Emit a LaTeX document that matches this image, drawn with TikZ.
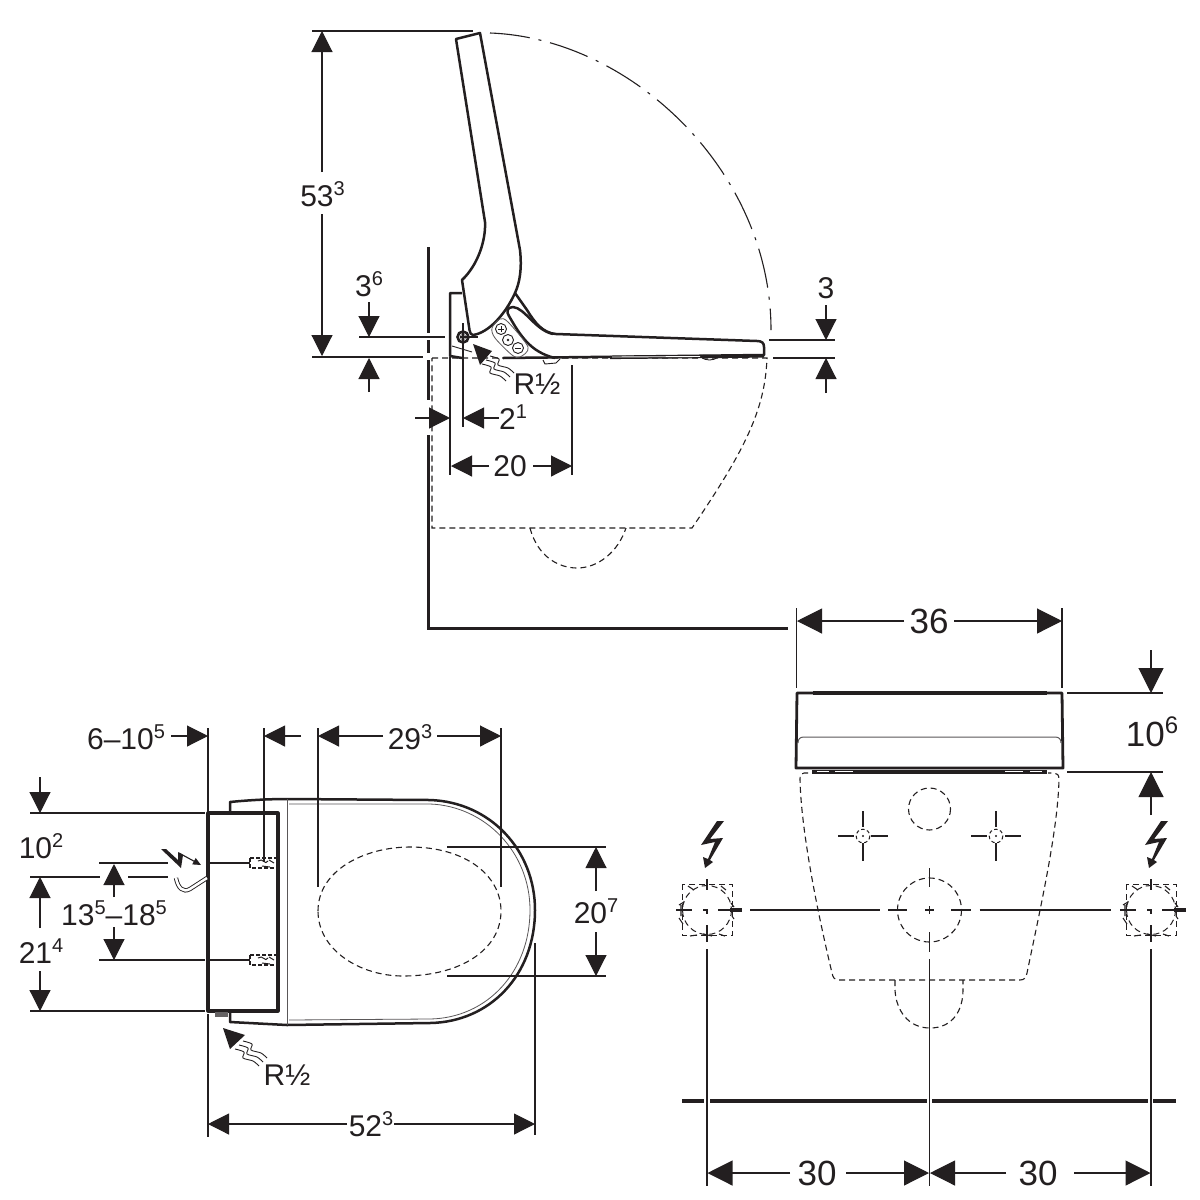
\documentclass[tikz,border=0pt]{standalone}
\usepackage{fontspec}
\setmainfont{Liberation Sans}
\usetikzlibrary{arrows.meta}
\definecolor{ink}{HTML}{231F20}
\newcommand{\upa}[1]{\raisebox{.36em}{\fontsize{20}{20}\selectfont #1}}
\newcommand{\upb}[1]{\raisebox{.36em}{\fontsize{24}{24}\selectfont #1}}
\tikzset{
	num/.style={font=\fontsize{30}{30}\selectfont,inner sep=0pt,text=ink},
	bignum/.style={font=\fontsize{35}{35}\selectfont,inner sep=0pt,text=ink},
	dim/.style={line width=1.1pt,draw=ink},
	big/.style={dim,>={Triangle[length=25pt,width=25pt]}},
	heavy/.style={line width=3pt,draw=ink},
	outline/.style={line width=2.5pt,draw=ink,line join=round},
	thin line/.style={line width=.8pt,draw=ink!75},
	hidden/.style={line width=1.1pt,draw=ink,dash pattern=on 6pt off 4pt},
	fitting/.pic={
		\draw[hidden,line width=1pt] (-25,-26) rectangle (25.5,25);
		\draw[hidden,line width=1pt] (0,0) circle (24.5);
		\draw[dim] (0,-31)--(0,-20) (0,15)--(0,32) (-31,0)--(-15,0) (-4,0)--(0,0)--(0,4) (11,0)--(23,0);
		\draw[line width=4pt,draw=ink] (23,0)--(35,0);
		\draw[dim] (-26,-5)--(-26,6) (-23,-8)--(-28,-5) (-19,-24)--(-13,-20) (14,-24)--(19,-20) (-17,26)--(-10,25) (12,24)--(18,26) (24,-7)--(27,-3) (25,6)--(27,9) (-4,24)--(5,26) (-28,8)--(-24,14);
	},
	hanger/.pic={
		\draw[hidden,line width=1.2pt,dash pattern=on 4pt off 2pt] (0,-5) rectangle (28,5);
		\draw[line width=1pt,draw=ink] (8,-2)..controls (13,-6) and (15,3) .. (18,-2) (12,3)--(20,4) (19,-3)--(24,0);
	},
	bolt/.pic={
		\fill[ink] (0,0)--(7,0)--(-7,18)--(6,17)--(-7,39)--(-4,41)--(-12,47)--(-14,36)--(-9,38)--(-2,21)--(-16,24)--cycle;
	},
	waves/.pic={
		\foreach \d in {0,1,2}
			\draw[line width=.9pt,draw=ink,xshift=-4*\d,yshift=-4*\d] plot[smooth] coordinates {(0,0) (9,3) (8,9) (18,12) (24,17)};
	}
}
\begin{document}
\begin{tikzpicture}[x=1pt,y=-1pt,>={Triangle[length=21pt,width=21pt]}]
	\fill[white] (0,0) rectangle (1200,1200);
	\useasboundingbox (0,0) rectangle (1200,1200);
	%Tuong
	\draw[heavy] (428,247)--(428,333) (428,340)--(428,353) (428,360)--(428,400);
	\draw[heavy] (428,435)--(428,628)--(788,628);
	%Chau nhin ben
	\draw[hidden] (432,358)--(767,358) .. controls (765,410) and (745,450) .. (692,528)--(432,528)--(432,358);
	\draw[hidden] (530,528) .. controls (538,558) and (560,568) .. (577,568) .. controls (598,568) and (618,552) .. (626,528);
	%Vong mo nap
	\draw[line width=1.1pt,draw=ink,dash pattern=on 40pt off 9pt on 3pt off 9pt] (490,33) .. controls (630,38) and (771,170) .. (771,330);
	%Nap dung
	\draw[outline] (456,39)--(480,33)--(520,250) .. controls (522,268) and (520,282) .. (515,293) .. controls (505,315) and (488,333) .. (473,335) .. controls (471,335) and (470,333) .. (469.5,330)--(462,280) .. controls (478,265) and (486,240) .. (485,222)--cycle;
	%Bet ngoi
	\draw[outline] (515,293)--(527,310) .. controls (535,323) and (543,333) .. (556,334)--(757,341) .. controls (762,341) and (764,343) .. (764,347)--(764,355)--(503,358);
	\draw[outline] (553,334) .. controls (535,330) and (525,308) .. (513,307) .. controls (507,307) and (506,312) .. (509,316) .. controls (520,335) and (530,352) .. (555,358);
	\draw[outline] (462,293)--(450,293)--(450,356)--(462,358);
	\draw[line width=.9pt,draw=ink] (452,346)--(472,352);
	\draw[line width=.9pt,draw=ink] (543,360)--(545,364)--(556,363)--(560,359);
	\draw[line width=.9pt,draw=ink] (701,357) .. controls (705,361) and (714,361) .. (718,357);
	\draw[line width=3.2pt,draw=ink] (610,357.5)--(764,356);
	\draw[line width=.9pt,white] (612,357)--(700,356.5);
	%Cum nut
	\draw[thin line] plot[smooth cycle] coordinates {(492,328) (500,319) (508,322) (528,347) (520,357) (512,355) (495,338)};
	\draw[line width=.9pt,draw=ink] (501,329) circle (5.5) (508,340) circle (5.5) (518,348) circle (5.5);
	\draw[line width=1pt,draw=ink] (498,329)--(504,329) (501,326)--(501,332) (515,348)--(521,348);
	\fill[ink] (508,340) circle (1.3);
	%Truc
	\draw[line width=2.6pt,draw=ink] (463,337) circle (5.5);
	\fill[ink!50] (463,337) circle (3.4);
	\fill[white] (463,337) circle (2);
	\fill[ink] (463,337) circle (.9);
	%Cap nuoc
	\fill[ink] (473,344)--(492,351)--(480,365)--cycle;
	\pic at (490,356) {waves};
	\node[num] (rtop) at (537,384) {R½};
	%Kich thuoc 53
	\draw[dim] (312,31)--(473,31);
	\draw[dim,->] (322,172)--(322,31);
	\draw[dim,->] (322,214)--(322,356);
	\node[num] (h533) at (322.5,194) {53\upa{3}};
	\draw[dim] (312,357)--(423,357);
	%Kich thuoc 3,6
	\draw[dim] (359,337)--(445,337) (460,337)--(478,337);
	\draw[dim] (463,323)--(463,427);
	\draw[dim,->] (369,302)--(369,337);
	\draw[dim,->] (369,392)--(369,358);
	\node[num] (h36) at (369,284) {3\upa{6}};
	%Kich thuoc 3
	\draw[dim] (769,340)--(835,340) (773,358)--(835,358);
	\draw[dim,->] (826,305)--(826,340);
	\draw[dim,->] (826,393)--(826,358);
	\node[num] (h3) at (826,288) {3};
	%Kich thuoc 2,1
	\draw[dim] (450,357)--(450,475);
	\draw[dim,->] (415,418)--(450,418);
	\draw[dim,->] (499,418)--(463,418);
	\node[num] (w21) at (513,417) {2\upa{1}};
	%Kich thuoc 20
	\draw[dim] (572,365)--(572,475);
	\draw[dim,->] (489,466)--(451,466);
	\draw[dim,->] (533,466)--(572,466);
	\node[num] (w20) at (510,466) {20};
	%Mat bang - than
	\draw[dim] (208,728)--(208,812) (208,1014)--(208,1137);
	\draw[outline,line width=3.1pt] (208,813)--(278,813)--(278,1011)--(208,1011)--cycle;
	\draw[outline] (230,812)--(230,802) .. controls (250,800) and (270,799) .. (287,799)--(430,800) .. controls (490,802) and (535,850) .. (535,910) .. controls (535,975) and (490,1022) .. (430,1023)--(287,1025)--(230,1022)--(230,1012);
	\draw[thin line] (287,799)--(287,1025);
	\draw[thin line] (289,804)--(430,804) .. controls (485,806) and (530,852) .. (530,910) .. controls (530,972) and (487,1018) .. (430,1019)--(289,1020);
	\fill[ink!70] (215,1012) rectangle (228,1017);
	\pic at (250,863) {hanger};
	\pic at (250,960) {hanger};
	\draw[hidden] (318,911) .. controls (318,870) and (365,847) .. (410,847) .. controls (465,847) and (501,875) .. (501,911) .. controls (501,950) and (460,976) .. (403,976) .. controls (360,976) and (318,950) .. (318,911)--cycle;
	%Kich thuoc 29
	\draw[dim] (318,728)--(318,887) (501,728)--(501,887);
	\draw[dim,->] (383,736)--(318,736);
	\draw[dim,->] (437,736)--(501,736);
	\node[num] (w293) at (410,737) {29\upa{3}};
	%Kich thuoc 6-10
	\draw[dim] (264,728)--(264,862);
	\draw[dim,->] (171,736)--(208,736);
	\draw[dim,->] (301,736)--(264,736);
	\node[num] (w610) at (126,737) {6–10\upa{5}};
	%Kich thuoc 10,2 va 21,4
	\draw[dim] (30,813)--(205,813) (30,877)--(100,877) (128,877)--(168,877) (30,1011)--(205,1011);
	\draw[dim,->] (40,777)--(40,813);
	\node[num] (h102) at (41,846) {10\upa{2}};
	\draw[dim,->] (40,928)--(40,877);
	\draw[dim,->] (40,971)--(40,1011);
	\node[num] (h214) at (41,951) {21\upa{4}};
	%Kich thuoc 13,5-18,5
	\draw[dim] (99,863)--(168,863) (207,863)--(250,863) (99,960)--(205,960) (209,960)--(250,960);
	\draw[dim,->] (114,897)--(114,864);
	\draw[dim,->] (114,927)--(114,960);
	\node[num] (h135) at (114,913) {13\upa{5}–18\upa{5}};
	%Dien
	\fill[ink] (161,849)--(166,849)--(178,860)--(178,852)--(183,855)--(181,868)--cycle;
	\draw[dim,-{Triangle[length=8pt,width=7pt]}] (179,853)--(201,865);
	\draw[line width=.9pt,draw=ink,double=white,double distance=2.5pt] (207,878)--(190,889) .. controls (183,893) and (178,888) .. (176,878);
	%Cap nuoc mat bang
	\fill[ink] (223,1028)--(245,1035)--(230,1049)--cycle;
	\pic at (243,1041) {waves};
	\node[num] (rplan) at (287,1075) {R½};
	%Kich thuoc 52
	\draw[dim] (535,943)--(535,1135);
	\draw[dim,->] (347,1124)--(208,1124);
	\draw[dim,->] (394,1124)--(535,1124);
	\node[num] (w523) at (371,1124) {52\upa{3}};
	%Kich thuoc 20,7
	\draw[dim] (447,847)--(606,847) (447,976)--(606,976);
	\draw[dim,->] (596,891)--(596,847);
	\draw[dim,->] (596,932)--(596,976);
	\node[num] (h207) at (596,911) {20\upa{7}};
	%Nhin truoc - bet ngoi
	\draw[outline,line width=2.8pt] (797,693)--(1062,693)--(1063,768)--(796,768)--cycle;
	\draw[line width=3.4pt,draw=ink] (813,693)--(1047,693);
	\draw[thin line,line width=1pt] (798,743) .. controls (798,739) and (800,737) .. (804,737)--(1055,737) .. controls (1059,737) and (1061,739) .. (1061,743);
	\draw[line width=4pt,draw=ink] (812,771.5)--(1047,771.5);
	\draw[line width=.9pt,white] (817,771)--(829,771) (835,771)--(853,771) (1005,771)--(1023,771) (1030,771)--(1042,771);
	%Chau nhin truoc
	\draw[hidden] (808,773)--(804,773) .. controls (801,773) and (800,775) .. (800,779) .. controls (801,830) and (817,910) .. (832,973) .. controls (833,978) and (835,980) .. (838,980)--(1020,980) .. controls (1024,980) and (1026,978) .. (1027,973) .. controls (1040,910) and (1058,830) .. (1059,779) .. controls (1059,775) and (1057,773) .. (1054,773)--(1048,773);
	\draw[hidden] (895,980)--(895,990) .. controls (896,1010) and (908,1028) .. (930,1028) .. controls (953,1028) and (963,1010) .. (963,990)--(963,980);
	\draw[hidden] (929.5,809) circle (21);
	%Lo vit
	\draw[hidden,line width=1pt,dash pattern=on 3.5pt off 2.5pt] (863,836) circle (6.8) (996,836) circle (6.8);
	\fill[ink] (863,836) circle (1.2) (996,836) circle (1.2);
	\draw[dim] (838,836)--(854,836) (871,836)--(888,836) (863,811)--(863,827) (863,843)--(863,861);
	\draw[dim] (971,836)--(987,836) (1005,836)--(1021,836) (996,811)--(996,827) (996,843)--(996,861);
	%Lo xa
	\draw[hidden] (929.5,910) circle (32);
	\draw[dim] (929.5,868)--(929.5,887) (929.5,932)--(929.5,952) (925,910)--(934,910) (929.5,906)--(929.5,914);
	\draw[dim] (750,910)--(880,910) (888,910)--(907,910) (951,910)--(971,910) (979.5,910)--(1111,910);
	\draw[dim] (929.5,959)--(929.5,1186);
	%Dau noi hai ben
	\pic at (707,910) {fitting};
	\pic at (1151,910) {fitting};
	\draw[dim] (707,949)--(707,1186) (1151,949)--(1151,1186);
	\pic at (717,821) {bolt};
	\pic at (1161,821) {bolt};
	%Kich thuoc 36
	\draw[dim] (796.5,608)--(796.5,688) (1062,608)--(1062,688);
	\draw[big,->] (904,621)--(797,621);
	\draw[big,->] (954,621)--(1062,621);
	\node[bignum] (w36) at (929,621) {36};
	%Kich thuoc 10,6
	\draw[dim] (1067,693)--(1163,693) (1067,772)--(1163,772);
	\draw[big,->] (1151,650)--(1151,693);
	\draw[big,->] (1151,815)--(1151,772);
	\node[bignum] (h106) at (1152,732) {10\upb{6}};
	%San
	\draw[line width=4pt,draw=ink] (682,1101)--(704,1101) (710,1101)--(927,1101) (932,1101)--(1148,1101) (1153,1101)--(1176,1101);
	%Kich thuoc 30
	\draw[big,->] (790,1173)--(707.5,1173);
	\draw[big,->] (846,1173)--(929,1173);
	\draw[big,->] (1006,1173)--(930,1173);
	\draw[big,->] (1074,1173)--(1150.5,1173);
	\node[bignum] (w30a) at (817,1173) {30};
	\node[bignum] (w30b) at (1038,1173) {30};
\end{tikzpicture}
\end{document}
